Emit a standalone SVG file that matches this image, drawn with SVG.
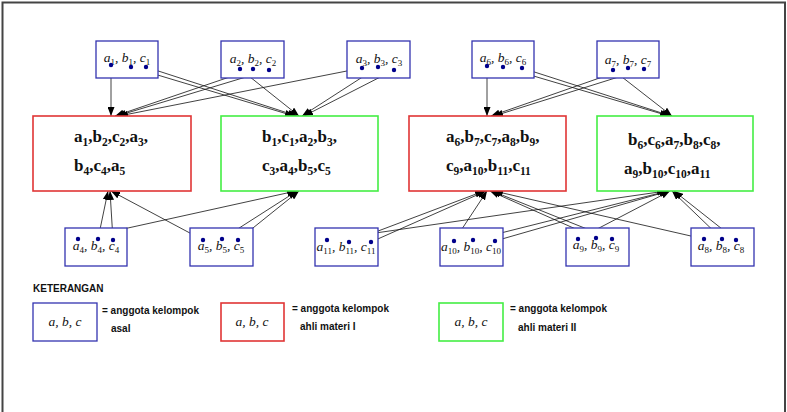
<svg xmlns="http://www.w3.org/2000/svg" width="787" height="412" viewBox="0 0 787 412">
<style>
.frame{fill:none;stroke:#444;stroke-width:2}
.b{fill:#fff;stroke:#3333b0;stroke-width:1.3}
.r{fill:#fff;stroke:#e03535;stroke-width:1.6}
.g{fill:#fff;stroke:#44ee44;stroke-width:1.6}
.m{font-family:"Liberation Serif",serif;font-style:italic;font-size:13.5px;fill:#111}
.m .s{font-style:normal;font-size:9px}
.big{font-family:"Liberation Serif",serif;font-weight:bold;font-size:17px;fill:#111}
.big .s{font-size:11.5px}
.d{fill:#00008b}
.lg{font-family:"Liberation Sans",Arial,sans-serif;font-weight:bold;font-size:10px;fill:#111}
#conn line{stroke:#111;stroke-width:0.8;marker-end:url(#ah)}
</style>
<defs>
<marker id="ah" markerUnits="userSpaceOnUse" markerWidth="9" markerHeight="7" refX="9" refY="3.5" orient="auto">
<path d="M0,0 L9,3.5 L0,7 z" fill="#000"/>
</marker>
</defs>
<rect width="787" height="412" fill="#fff"/>
<path class="frame" d="M2.5,412 V2.5 H785 V412"/>

<g id="conn">
<line x1="111" y1="65" x2="111" y2="116"/>
<line x1="131" y1="67" x2="294" y2="116"/>
<line x1="146" y1="67" x2="297" y2="116"/>
<line x1="240" y1="69" x2="299" y2="116"/>
<line x1="253" y1="69" x2="115" y2="116"/>
<line x1="269" y1="70" x2="117" y2="116"/>
<line x1="362" y1="68" x2="119" y2="116"/>
<line x1="378" y1="67" x2="302" y2="116"/>
<line x1="394" y1="70" x2="304" y2="116"/>
<line x1="487" y1="66" x2="487" y2="116"/>
<line x1="503" y1="67" x2="669" y2="116"/>
<line x1="522" y1="68" x2="671" y2="116"/>
<line x1="613" y1="70" x2="672" y2="116"/>
<line x1="628" y1="68" x2="491" y2="116"/>
<line x1="644" y1="69" x2="494" y2="116"/>
<line x1="78" y1="239" x2="296" y2="191"/>
<line x1="98" y1="239" x2="108" y2="191"/>
<line x1="113" y1="240" x2="110" y2="191"/>
<line x1="203" y1="240" x2="111" y2="191"/>
<line x1="222" y1="239" x2="297" y2="191"/>
<line x1="238" y1="240" x2="299" y2="191"/>
<line x1="327" y1="240" x2="666" y2="191"/>
<line x1="349" y1="242" x2="484" y2="191"/>
<line x1="371" y1="242" x2="486" y2="191"/>
<line x1="454" y1="241" x2="487" y2="191"/>
<line x1="473" y1="240" x2="668" y2="191"/>
<line x1="495" y1="241" x2="669" y2="191"/>
<line x1="578" y1="239" x2="670" y2="191"/>
<line x1="596" y1="238" x2="490" y2="191"/>
<line x1="612" y1="239" x2="492" y2="191"/>
<line x1="704" y1="239" x2="494" y2="191"/>
<line x1="722" y1="239" x2="672" y2="191"/>
<line x1="736" y1="240" x2="674" y2="191"/>
</g>

<g id="g1"><rect class="b" x="96" y="41" width="62" height="37"/>
<text class="m" x="127" y="62" text-anchor="middle">a<tspan class="s" dy="3">1</tspan><tspan dy="-3">, b</tspan><tspan class="s" dy="3">1</tspan><tspan dy="-3">, c</tspan><tspan class="s" dy="3">1</tspan></text>
<circle class="d" cx="111" cy="65" r="2.2"/><circle class="d" cx="131" cy="67" r="2.2"/><circle class="d" cx="146" cy="67" r="2.2"/></g>
<g id="g2"><rect class="b" x="221" y="41" width="63" height="37"/>
<text class="m" x="253" y="63" text-anchor="middle">a<tspan class="s" dy="3">2</tspan><tspan dy="-3">, b</tspan><tspan class="s" dy="3">2</tspan><tspan dy="-3">, c</tspan><tspan class="s" dy="3">2</tspan></text>
<circle class="d" cx="240" cy="69" r="2.2"/><circle class="d" cx="253" cy="69" r="2.2"/><circle class="d" cx="269" cy="70" r="2.2"/></g>
<g id="g3"><rect class="b" x="347" y="41" width="63" height="37"/>
<text class="m" x="379" y="63" text-anchor="middle">a<tspan class="s" dy="3">3</tspan><tspan dy="-3">, b</tspan><tspan class="s" dy="3">3</tspan><tspan dy="-3">, c</tspan><tspan class="s" dy="3">3</tspan></text>
<circle class="d" cx="362" cy="68" r="2.2"/><circle class="d" cx="378" cy="67" r="2.2"/><circle class="d" cx="394" cy="70" r="2.2"/></g>
<g id="g6"><rect class="b" x="472" y="41" width="62" height="37"/>
<text class="m" x="503" y="62" text-anchor="middle">a<tspan class="s" dy="3">6</tspan><tspan dy="-3">, b</tspan><tspan class="s" dy="3">6</tspan><tspan dy="-3">, c</tspan><tspan class="s" dy="3">6</tspan></text>
<circle class="d" cx="487" cy="66" r="2.2"/><circle class="d" cx="503" cy="67" r="2.2"/><circle class="d" cx="522" cy="68" r="2.2"/></g>
<g id="g7"><rect class="b" x="597" y="41" width="62" height="37"/>
<text class="m" x="628" y="64" text-anchor="middle">a<tspan class="s" dy="3">7</tspan><tspan dy="-3">, b</tspan><tspan class="s" dy="3">7</tspan><tspan dy="-3">, c</tspan><tspan class="s" dy="3">7</tspan></text>
<circle class="d" cx="613" cy="70" r="2.2"/><circle class="d" cx="628" cy="68" r="2.2"/><circle class="d" cx="644" cy="69" r="2.2"/></g>

<g id="red1"><rect class="r" x="33" y="116" width="158" height="75"/>
<text class="big" x="74" y="142">a<tspan class="s" dy="4">1</tspan><tspan dy="-4">,b</tspan><tspan class="s" dy="4">2</tspan><tspan dy="-4">,c</tspan><tspan class="s" dy="4">2</tspan><tspan dy="-4">,a</tspan><tspan class="s" dy="4">3</tspan><tspan dy="-4">,</tspan></text>
<text class="big" x="74" y="171">b<tspan class="s" dy="4">4</tspan><tspan dy="-4">,c</tspan><tspan class="s" dy="4">4</tspan><tspan dy="-4">,a</tspan><tspan class="s" dy="4">5</tspan></text></g>
<g id="green1"><rect class="g" x="221" y="116" width="157" height="75"/>
<text class="big" x="262" y="142">b<tspan class="s" dy="4">1</tspan><tspan dy="-4">,c</tspan><tspan class="s" dy="4">1</tspan><tspan dy="-4">,a</tspan><tspan class="s" dy="4">2</tspan><tspan dy="-4">,b</tspan><tspan class="s" dy="4">3</tspan><tspan dy="-4">,</tspan></text>
<text class="big" x="262" y="171">c<tspan class="s" dy="4">3</tspan><tspan dy="-4">,a</tspan><tspan class="s" dy="4">4</tspan><tspan dy="-4">,b</tspan><tspan class="s" dy="4">5</tspan><tspan dy="-4">,c</tspan><tspan class="s" dy="4">5</tspan></text></g>
<g id="red2"><rect class="r" x="409" y="116" width="157" height="75"/>
<text class="big" x="446" y="142">a<tspan class="s" dy="4">6</tspan><tspan dy="-4">,b</tspan><tspan class="s" dy="4">7</tspan><tspan dy="-4">,c</tspan><tspan class="s" dy="4">7</tspan><tspan dy="-4">,a</tspan><tspan class="s" dy="4">8</tspan><tspan dy="-4">,b</tspan><tspan class="s" dy="4">9</tspan><tspan dy="-4">,</tspan></text>
<text class="big" x="446" y="171">c<tspan class="s" dy="4">9</tspan><tspan dy="-4">,a</tspan><tspan class="s" dy="4">10</tspan><tspan dy="-4">,b</tspan><tspan class="s" dy="4">11</tspan><tspan dy="-4">,c</tspan><tspan class="s" dy="4">11</tspan></text></g>
<g id="green2"><rect class="g" x="597" y="116" width="156" height="75"/>
<text class="big" x="628" y="145">b<tspan class="s" dy="4">6</tspan><tspan dy="-4">,c</tspan><tspan class="s" dy="4">6</tspan><tspan dy="-4">,a</tspan><tspan class="s" dy="4">7</tspan><tspan dy="-4">,b</tspan><tspan class="s" dy="4">8</tspan><tspan dy="-4">,c</tspan><tspan class="s" dy="4">8</tspan><tspan dy="-4">,</tspan></text>
<text class="big" x="624" y="174">a<tspan class="s" dy="4">9</tspan><tspan dy="-4">,b</tspan><tspan class="s" dy="4">10</tspan><tspan dy="-4">,c</tspan><tspan class="s" dy="4">10</tspan><tspan dy="-4">,a</tspan><tspan class="s" dy="4">11</tspan></text></g>

<g id="g4"><rect class="b" x="65" y="228" width="62" height="38"/>
<text class="m" x="96" y="250" text-anchor="middle">a<tspan class="s" dy="3">4</tspan><tspan dy="-3">, b</tspan><tspan class="s" dy="3">4</tspan><tspan dy="-3">, c</tspan><tspan class="s" dy="3">4</tspan></text>
<circle class="d" cx="78" cy="239" r="2.2"/><circle class="d" cx="98" cy="239" r="2.2"/><circle class="d" cx="113" cy="240" r="2.2"/></g>
<g id="g5"><rect class="b" x="190" y="228" width="63" height="38"/>
<text class="m" x="221" y="250" text-anchor="middle">a<tspan class="s" dy="3">5</tspan><tspan dy="-3">, b</tspan><tspan class="s" dy="3">5</tspan><tspan dy="-3">, c</tspan><tspan class="s" dy="3">5</tspan></text>
<circle class="d" cx="203" cy="240" r="2.2"/><circle class="d" cx="222" cy="239" r="2.2"/><circle class="d" cx="238" cy="240" r="2.2"/></g>
<g id="g11"><rect class="b" x="315" y="228" width="63" height="38"/>
<text class="m" x="346" y="251" text-anchor="middle">a<tspan class="s" dy="3">11</tspan><tspan dy="-3">, b</tspan><tspan class="s" dy="3">11</tspan><tspan dy="-3">, c</tspan><tspan class="s" dy="3">11</tspan></text>
<circle class="d" cx="327" cy="240" r="2.2"/><circle class="d" cx="349" cy="242" r="2.2"/><circle class="d" cx="371" cy="242" r="2.2"/></g>
<g id="g10"><rect class="b" x="440" y="228" width="63" height="38"/>
<text class="m" x="471" y="251" text-anchor="middle">a<tspan class="s" dy="3">10</tspan><tspan dy="-3">, b</tspan><tspan class="s" dy="3">10</tspan><tspan dy="-3">, c</tspan><tspan class="s" dy="3">10</tspan></text>
<circle class="d" cx="454" cy="241" r="2.2"/><circle class="d" cx="473" cy="240" r="2.2"/><circle class="d" cx="495" cy="241" r="2.2"/></g>
<g id="g9"><rect class="b" x="566" y="228" width="63" height="38"/>
<text class="m" x="596" y="249" text-anchor="middle">a<tspan class="s" dy="3">9</tspan><tspan dy="-3">, b</tspan><tspan class="s" dy="3">9</tspan><tspan dy="-3">, c</tspan><tspan class="s" dy="3">9</tspan></text>
<circle class="d" cx="578" cy="239" r="2.2"/><circle class="d" cx="596" cy="238" r="2.2"/><circle class="d" cx="612" cy="239" r="2.2"/></g>
<g id="g8"><rect class="b" x="691" y="228" width="63" height="38"/>
<text class="m" x="721" y="250" text-anchor="middle">a<tspan class="s" dy="3">8</tspan><tspan dy="-3">, b</tspan><tspan class="s" dy="3">8</tspan><tspan dy="-3">, c</tspan><tspan class="s" dy="3">8</tspan></text>
<circle class="d" cx="704" cy="239" r="2.2"/><circle class="d" cx="722" cy="239" r="2.2"/><circle class="d" cx="736" cy="240" r="2.2"/></g>

<g id="legend">
<text class="lg" x="33" y="292" font-size="10.5">KETERANGAN</text>
<rect class="b" x="33" y="303" width="64" height="38"/>
<text class="m" x="65" y="326" text-anchor="middle" font-size="14.5">a, b, c</text>
<text class="lg" x="102" y="314">= anggota kelompok</text>
<text class="lg" x="111" y="332">asal</text>
<rect class="r" x="221" y="303" width="63" height="38"/>
<text class="m" x="252" y="326" text-anchor="middle" font-size="14.5">a, b, c</text>
<text class="lg" x="292" y="312">= anggota kelompok</text>
<text class="lg" x="300" y="330">ahli materi I</text>
<rect class="g" x="439" y="303" width="64" height="38"/>
<text class="m" x="471" y="326" text-anchor="middle" font-size="14.5">a, b, c</text>
<text class="lg" x="510" y="312">= anggota kelompok</text>
<text class="lg" x="518" y="331">ahli materi II</text>
</g>
</svg>
